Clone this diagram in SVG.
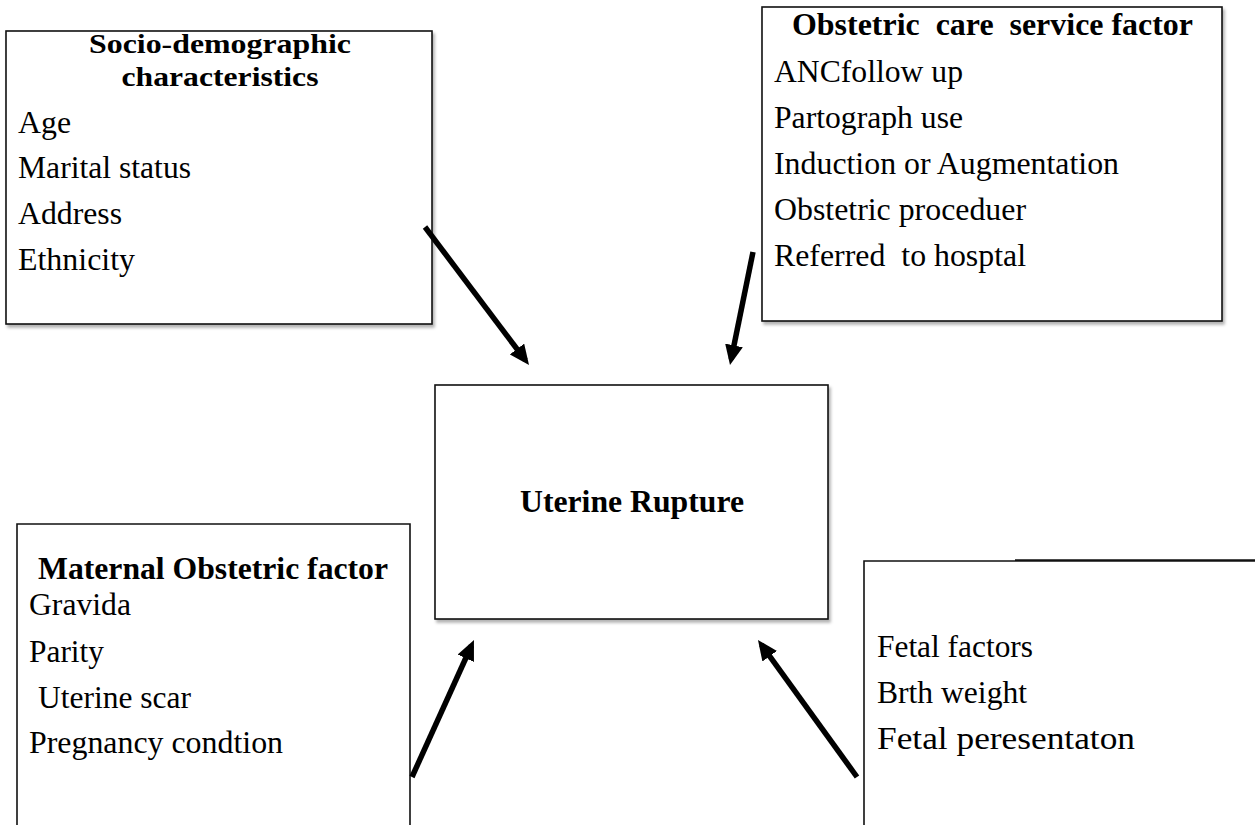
<svg xmlns="http://www.w3.org/2000/svg" width="1255" height="825" viewBox="0 0 1255 825">
<defs>
<style>
.box{fill:#fff;stroke:#111;stroke-width:1.6;}
.edge{fill:none;stroke:#111;stroke-width:1.6;}
.arr{stroke:#000;stroke-width:5.5;fill:none;marker-end:url(#ah);}
</style>
<filter id="sh" x="-5%" y="-5%" width="115%" height="115%">
<feDropShadow dx="2" dy="3" stdDeviation="1.5" flood-color="#000" flood-opacity="0.3"/>
</filter>
<marker id="ah" viewBox="0 0 20 18" refX="14" refY="9" markerWidth="20" markerHeight="18" markerUnits="userSpaceOnUse" orient="auto">
<path d="M0,0 L20,9 L0,18 z" fill="#000"/>
</marker>
</defs>
<rect width="1255" height="825" fill="#fff"/>

<g font-family="Liberation Serif, Times New Roman, serif" font-size="32" fill="#000">
<g id="socio">
<rect class="box" x="6" y="31" width="426" height="293" filter="url(#sh)"/>
<text font-weight="bold" font-size="28" x="220" y="53" text-anchor="middle" textLength="262" lengthAdjust="spacingAndGlyphs">Socio-demographic</text>
<text font-weight="bold" font-size="28" x="220" y="86" text-anchor="middle" textLength="197" lengthAdjust="spacingAndGlyphs">characteristics</text>
<text x="18" y="133" textLength="53" lengthAdjust="spacingAndGlyphs">Age</text>
<text x="18" y="178" textLength="173" lengthAdjust="spacingAndGlyphs">Marital status</text>
<text x="18" y="224" textLength="104" lengthAdjust="spacingAndGlyphs">Address</text>
<text x="18" y="270" textLength="117" lengthAdjust="spacingAndGlyphs">Ethnicity</text>
</g>

<g id="obstetric-care">
<rect class="box" x="762" y="7" width="460" height="314" filter="url(#sh)"/>
<text font-weight="bold" x="792" y="35" textLength="401" lengthAdjust="spacingAndGlyphs" xml:space="preserve">Obstetric  care  service factor</text>
<text x="774" y="82" textLength="189" lengthAdjust="spacingAndGlyphs">ANCfollow up</text>
<text x="774" y="128" textLength="189" lengthAdjust="spacingAndGlyphs">Partograph use</text>
<text x="774" y="174" textLength="345" lengthAdjust="spacingAndGlyphs">Induction or Augmentation</text>
<text x="774" y="220" textLength="252" lengthAdjust="spacingAndGlyphs">Obstetric proceduer</text>
<text x="774" y="266" textLength="252" lengthAdjust="spacingAndGlyphs" xml:space="preserve">Referred  to hosptal</text>
</g>

<g id="uterine-rupture">
<rect class="box" x="435" y="385" width="393" height="234" filter="url(#sh)"/>
<text font-weight="bold" x="632" y="512" text-anchor="middle" textLength="224" lengthAdjust="spacingAndGlyphs">Uterine Rupture</text>
</g>

<g id="maternal">
<path class="edge" d="M17,826 L17,524 L410,524 L410,826"/>
<text font-weight="bold" x="38" y="579" textLength="350" lengthAdjust="spacingAndGlyphs">Maternal Obstetric factor</text>
<text x="29" y="615" textLength="102" lengthAdjust="spacingAndGlyphs">Gravida</text>
<text x="29" y="662" textLength="75" lengthAdjust="spacingAndGlyphs">Parity</text>
<text x="38" y="708" textLength="153" lengthAdjust="spacingAndGlyphs">Uterine scar</text>
<text x="29" y="753" textLength="254" lengthAdjust="spacingAndGlyphs">Pregnancy condtion</text>
</g>

<g id="fetal">
<path class="edge" d="M864,826 L864,561 L1015,561"/>
<path class="edge" d="M1015,560.5 L1256,560.5" style="stroke-width:2.4"/>
<text x="877" y="657" textLength="156" lengthAdjust="spacingAndGlyphs">Fetal factors</text>
<text x="877" y="703" textLength="150" lengthAdjust="spacingAndGlyphs">Brth weight</text>
<text x="877" y="749" textLength="258" lengthAdjust="spacingAndGlyphs">Fetal peresentaton</text>
</g>
</g>

<g id="connectors">
<line class="arr" x1="425" y1="227" x2="525.4" y2="360.2"/>
<line class="arr" x1="753" y1="252" x2="731.2" y2="359.1"/>
<line class="arr" x1="412" y1="777" x2="471.5" y2="645.5"/>
<line class="arr" x1="857" y1="777" x2="761.5" y2="644.9"/>
</g>
</svg>
